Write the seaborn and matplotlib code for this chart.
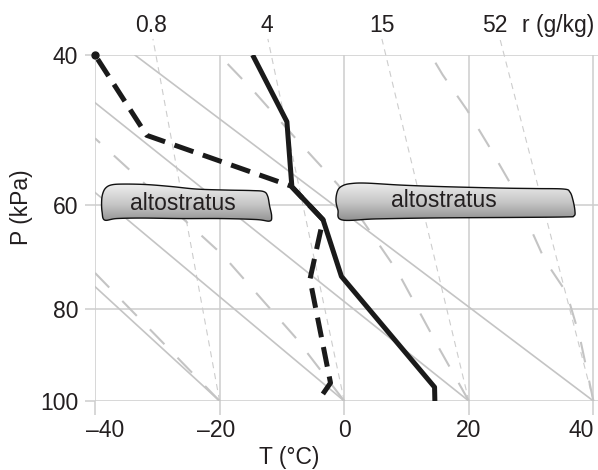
import numpy as np
import matplotlib
matplotlib.use("Agg")
import matplotlib.pyplot as plt
import matplotlib.transforms as mtrans
import seaborn as sns
import pandas as pd
from matplotlib.path import Path
from matplotlib.patches import PathPatch
from matplotlib.colors import LinearSegmentedColormap

# ---------------- data ----------------
# environmental temperature sounding
T_env = [-14.7, -9.2, -8.4, -3.4, -0.45, 14.5, 14.55]
P_env = [40.0, 47.9, 57.1, 62.5, 73.1, 96.7, 100.0]
# dew-point sounding
Td_env = [-40.0, -31.7, -8.55, -3.4, -5.5, -2.2, -4.2]
Pd_env = [40.0, 49.7, 57.0, 62.5, 73.7, 95.7, 100.0]

temp_ticks = [-40, -20, 0, 20, 40]
pres_ticks = [40, 60, 80, 100]

# dry adiabats (solid grey)
dry_T = [[-20, -40], [0, -40], [20, -40], [40, -33.6]]
dry_P = [[100, 75.2], [100, 58.0], [100, 45.5], [100, 40.0]]

# saturated adiabats (long-dashed grey)
moist_T = [[-20, -40],
           [0, -7.9, -19.5, -40],
           [20, 15.4, 8.6, -1.0, -7.6, -14.65, -19.8],
           [40, 37.8, 35.7, 32.2, 26.6, 23.1, 19.7, 15.8, 13.9]]
moist_P = [[100, 72.4],
           [100, 85.6, 68.9, 50.1],
           [100, 88.4, 72.2, 56.8, 50.3, 44.0, 40.2],
           [100, 85.6, 76.5, 69.9, 56.5, 51.0, 46.4, 42.2, 40.0]]

# mixing-ratio lines (thin dashed)
mix_labels = ["0.8", "4", "15", "52"]
mix_T_bottom = [-20, 0, 20, 40]
mix_T_top = [-30.7, -12.25, 6.05, 25.0]
mix_P_bottom = 100.0
mix_P_top = 38.3
mix_label_T = [-31.0, -12.4, 6.05, 24.2]
mix_unit_T = 34.3
label_P = 36.9

# clouds: T range, P range (top, base), label position
cloud_text = "altostratus"
cloud_T = [(-38.94, -11.65), (-1.33, 37.03)]
cloud_P = [(56.7, 62.9), (56.55, 62.7)]
cloud_label_T = [-25.97, 15.96]
cloud_label_P = [59.74, 59.2]

# ---------------- styling ----------------
sns.set_theme(style="white")
plt.rcParams['font.family'] = ['Liberation Sans', 'DejaVu Sans']
TXT = '#231f20'
GRID = '#cdcdcd'
ADIA = '#c4c4c4'
FS = 16.5

# relative spacing of the pressure axis (ln P knots -> relative position)
P_KN = np.array([30, 40, 60, 80, 100, 110], float)
Y_KN = np.array([-106.4, 0, 150, 254, 346, 385.3])
LNK = np.log(P_KN)

def fwd(p):
    p = np.clip(np.asarray(p, float), 1e-6, None)
    return np.interp(np.log(p), LNK, Y_KN)

def inv(y):
    return np.exp(np.interp(np.asarray(y, float), Y_KN, LNK))

fig = plt.figure(figsize=(5.98, 4.70), dpi=100)
ax = fig.add_axes([0.15886, 0.14681, 0.8408, 0.73617])
ax.set_yscale('function', functions=(fwd, inv))
ax.set_xlim(-40, 40.7)
ax.set_ylim(100, 40)
ax.set_autoscale_on(False)

for s in ax.spines.values():
    s.set_visible(False)
ax.set_axisbelow(True)
ax.grid(True, color=GRID, lw=1.1)

# mixing ratio lines
for tb, tt in zip(mix_T_bottom, mix_T_top):
    ax.plot([tb, tt], [mix_P_bottom, mix_P_top], color=GRID, lw=0.8,
            linestyle=(0, (5.5, 4.5)), clip_on=False, zorder=1)
# dry adiabats
for ts, ps in zip(dry_T, dry_P):
    ax.plot(ts, ps, color=ADIA, lw=1.2, zorder=1.1)
# moist adiabats
for ts, ps in zip(moist_T, moist_P):
    ax.plot(ts, ps, color=ADIA, lw=1.5, linestyle=(0, (10, 9)), zorder=1.1)

# soundings
df_t = pd.DataFrame({"T": T_env, "P": P_env})
df_d = pd.DataFrame({"T": Td_env, "P": Pd_env})
n0 = len(ax.lines)
sns.lineplot(data=df_t, x="T", y="P", sort=False, estimator=None,
             color='#1a1a1a', lw=3.6, ax=ax, zorder=5)
sns.lineplot(data=df_d, x="T", y="P", sort=False, estimator=None,
             color='#1a1a1a', lw=3.6, ax=ax, zorder=5)
lt, ld = ax.lines[n0], ax.lines[n0 + 1]
lt.set_solid_capstyle('butt')
ld.set_linestyle((5, (4, 2)))
ld.set_dash_capstyle('butt')
ax.plot([Td_env[0]], [Pd_env[0]], 'o', ms=5, color='#1a1a1a', zorder=6, clip_on=False)

ax.set_xlim(-40, 40.7)
ax.set_ylim(100, 40)

# ticks
ax.set_xticks(temp_ticks)
ax.set_xticklabels([f"{t}".replace('-', '\u2013') for t in temp_ticks])
ax.set_yticks(pres_ticks)
ax.set_yticklabels([str(p) for p in pres_ticks])
ax.yaxis.set_minor_locator(matplotlib.ticker.NullLocator())
ax.tick_params(axis='y', left=True, length=7.2, width=1.1, color=GRID, pad=5,
               labelsize=FS, labelcolor=TXT)
ax.tick_params(axis='x', bottom=True, length=10, width=1.1, color=GRID, pad=3,
               labelsize=FS, labelcolor=TXT)
shifts = {0: 10, 1: -3, 4: -12}
for i, lab in enumerate(ax.get_xticklabels()):
    if i in shifts:
        lab.set_transform(lab.get_transform() +
                          mtrans.ScaledTranslation(shifts[i] / 100, 0, fig.dpi_scale_trans))

ax.set_xlabel("T (\u00b0C)", fontsize=FS, color=TXT)
ax.set_ylabel("P (kPa)", fontsize=FS, color=TXT)
ax.xaxis.set_label_coords(0.386, -0.130)
ax.yaxis.set_label_coords(-0.123, 0.561)

# mixing-ratio labels
for lab, t in zip(mix_labels, mix_label_T):
    ax.text(t, label_P, lab, ha='center', va='center', fontsize=FS, color=TXT, clip_on=False)
ax.text(mix_unit_T, label_P, "r (g/kg)", ha='center', va='center', fontsize=FS, color=TXT,
        clip_on=False)

# ---------------- clouds ----------------
def catmull_closed(pts, n=10):
    pts = np.asarray(pts, float)
    N = len(pts)
    out = []
    for i in range(N):
        p0, p1, p2, p3 = pts[(i - 1) % N], pts[i], pts[(i + 1) % N], pts[(i + 2) % N]
        for t in np.linspace(0, 1, n, endpoint=False):
            t2, t3 = t * t, t * t * t
            out.append(0.5 * ((2 * p1) + (-p0 + p2) * t + (2 * p0 - 5 * p1 + 4 * p2 - p3) * t2
                              + (-p0 + 3 * p1 - 3 * p2 + p3) * t3))
    return np.array(out)

shape_left = np.array([(3, 36), (0.5, 28), (0, 18), (1, 10), (4, 4), (10, 0.8), (22, 0),
                       (45, 0.5), (70, 2.5), (95, 5), (125, 6), (150, 6.5), (162, 7.5),
                       (166, 12), (168, 22), (170, 32), (168, 37), (155, 35.5), (120, 34.5),
                       (80, 34.5), (40, 34), (15, 34.5)]) / np.array([170, 38])
shape_right = np.array([(6, 37), (2, 27), (0, 17), (2, 7), (7, 2.5), (15, 0.5), (30, 0),
                        (65, 2), (105, 3.5), (165, 5), (200, 5.5), (228, 6), (234, 9),
                        (237, 17), (239, 28), (238, 33), (230, 34), (180, 34.5), (100, 35),
                        (40, 36)]) / np.array([239, 38])
cmap = LinearSegmentedColormap.from_list('cl', ['#f4f4f4', '#c8c8c8', '#858585'])
grad = np.linspace(0, 1, 256).reshape(-1, 1)
to_ax = ax.transData + ax.transAxes.inverted()
for (t0, t1), (ptop, pbot), shp, tx, ty in zip(cloud_T, cloud_P, [shape_left, shape_right],
                                               cloud_label_T, cloud_label_P):
    (x0, ytop), (x1, ybot) = to_ax.transform([(t0, ptop), (t1, pbot)])
    sm = catmull_closed(shp)
    xs = x0 + sm[:, 0] * (x1 - x0)
    ys = ytop - sm[:, 1] * (ytop - ybot)
    verts = np.column_stack([xs, ys])
    verts = np.vstack([verts, verts[:1]])
    codes = [Path.MOVETO] + [Path.LINETO] * (len(verts) - 2) + [Path.CLOSEPOLY]
    path = Path(verts, codes)
    patch = PathPatch(path, facecolor='none', edgecolor='#111111', lw=1.0,
                      transform=ax.transAxes, zorder=4)
    im = ax.imshow(grad, cmap=cmap, extent=[x0 - 0.01, x1 + 0.01, ybot - 0.01, ytop + 0.01],
                   transform=ax.transAxes, aspect='auto', origin='upper', zorder=3.5,
                   interpolation='bilinear')
    clip = PathPatch(path, transform=ax.transAxes, facecolor='none', edgecolor='none')
    ax.add_patch(clip)
    im.set_clip_path(clip)
    ax.add_patch(patch)
    ax.text(tx, ty, cloud_text, ha='center', va='center', fontsize=FS, color=TXT, zorder=4.5)

ax.set_xlim(-40, 40.7)
ax.set_ylim(100, 40)

fig.savefig('out.png', dpi=100)
